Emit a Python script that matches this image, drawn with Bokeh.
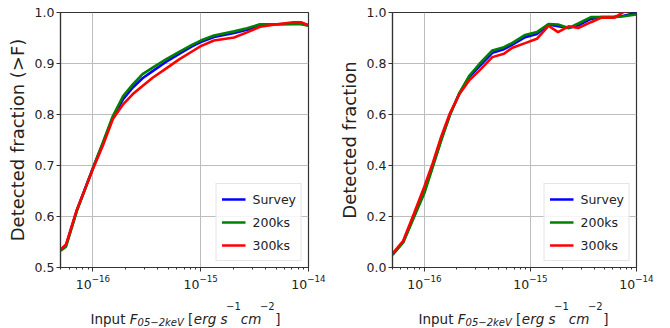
from bokeh.plotting import figure
from bokeh.layouts import row, column
from bokeh.models import Range1d, FixedTicker, PrintfTickFormatter, LogTickFormatter
from bokeh.core.properties import value
from bokeh.embed import file_html
from bokeh.resources import INLINE

# ---------------- data ----------------
series_names = ["Survey", "200ks", "300ks"]
series_colors = ["#0000ff", "#008000", "#ff0000"]

flux_left = [5.01e-17, 5.62e-17, 7.08e-17, 1.0e-16, 1.236e-16, 1.531e-16, 1.905e-16, 2.344e-16,
             2.884e-16, 3.581e-16, 4.753e-16, 6.31e-16, 8.375e-16, 1.0e-15, 1.327e-15, 2.04e-15,
             2.69e-15, 3.55e-15, 5.13e-15, 7.24e-15, 8.51e-15, 1.0e-14]
left_survey = [0.535, 0.543, 0.612, 0.695, 0.743, 0.794, 0.830, 0.853, 0.871, 0.885, 0.903,
               0.919, 0.934, 0.942, 0.952, 0.960, 0.966, 0.976, 0.977, 0.978, 0.979, 0.975]
left_200ks = [0.533, 0.541, 0.610, 0.695, 0.745, 0.797, 0.836, 0.859, 0.879, 0.892, 0.908,
              0.923, 0.937, 0.945, 0.955, 0.963, 0.969, 0.977, 0.977, 0.977, 0.977, 0.974]
left_300ks = [0.535, 0.545, 0.613, 0.693, 0.739, 0.791, 0.820, 0.840, 0.856, 0.872, 0.890,
              0.908, 0.924, 0.934, 0.945, 0.951, 0.961, 0.972, 0.977, 0.981, 0.981, 0.975]

flux_right = [5.01e-17, 6.31e-17, 7.94e-17, 1.0e-16, 1.2e-16, 1.445e-16, 1.74e-16, 2.14e-16,
              2.66e-16, 3.31e-16, 4.37e-16, 5.62e-16, 6.76e-16, 8.91e-16, 1.15e-15, 1.48e-15,
              1.82e-15, 2.29e-15, 2.82e-15, 3.72e-15, 4.68e-15, 6.17e-15, 7.59e-15, 1.0e-14]
right_survey = [0.050, 0.100, 0.200, 0.300, 0.400, 0.505, 0.600, 0.683, 0.748, 0.790, 0.842,
                0.856, 0.874, 0.903, 0.916, 0.953, 0.946, 0.939, 0.950, 0.975, 0.982, 0.983,
                0.987, 0.999]
right_200ks = [0.050, 0.098, 0.195, 0.292, 0.395, 0.500, 0.598, 0.685, 0.753, 0.799, 0.851,
               0.864, 0.881, 0.912, 0.923, 0.955, 0.953, 0.939, 0.957, 0.982, 0.982, 0.982,
               0.985, 0.992]
right_300ks = [0.055, 0.105, 0.210, 0.318, 0.410, 0.515, 0.605, 0.680, 0.735, 0.773, 0.825,
               0.838, 0.862, 0.880, 0.897, 0.948, 0.923, 0.946, 0.939, 0.962, 0.980, 0.980,
               1.002, 1.020]

left_yticks = [0.5, 0.6, 0.7, 0.8, 0.9, 1.0]
right_yticks = [0.0, 0.2, 0.4, 0.6, 0.8, 1.0]
x_major = [1e-16, 1e-15, 1e-14]
x_minor = [m * 10.0 ** e for e in (-17, -16, -15) for m in range(2, 10)]

# x-axis title pieces: Input F_{05-2keV} [erg s^{-1} cm^{-2}]
# (text, style, size px, baseline shift, horizontal nudge)
xlabel_pieces = [("Input", "normal", 13.5, 0, 0), ("F", "italic", 13.5, 0, 4.3),
                 ("05−2keV", "italic", 10, -4, 0), ("[", "normal", 13.5, 0, 4.3),
                 ("erg\u00a0s", "italic", 13.5, 0, 0.5), ("−1", "normal", 10, 12.5, -1.5),
                 ("cm", "italic", 13.5, 0, 0), ("−2", "normal", 10, 12.5, -1.5),
                 ("]", "normal", 13.5, 0, 0.5)]

FONT = "DejaVu Sans"
TXT = "#222222"
# DejaVu Sans advance widths (em) used to lay out the composite x label
ADV = {"I": 0.2949, "n": 0.6338, "p": 0.6348, "u": 0.6338, "t": 0.3921, " ": 0.3179,
       "\u00a0": 0.3179, "F": 0.5752, "0": 0.6362, "1": 0.6362, "2": 0.6362, "5": 0.6362,
       "−": 0.8379, "k": 0.5791, "e": 0.6152, "V": 0.6841, "[": 0.3901, "]": 0.3901,
       "r": 0.4111, "g": 0.6348, "s": 0.5210, "c": 0.5498, "m": 0.9741}


def make_fig(flux, ys, yrange, yticks, ylabel, min_left, min_right):
    p = figure(width=min_left + 248 + min_right, height=297, x_axis_type="log",
               x_range=Range1d(5e-17, 1e-14), y_range=Range1d(*yrange),
               output_backend="svg", toolbar_location=None,
               min_border_left=min_left, min_border_right=min_right,
               min_border_top=12, min_border_bottom=30)
    p.background_fill_color = "white"
    p.border_fill_color = "white"
    p.outline_line_color = "#333333"
    p.outline_line_width = 1.2

    for vals, name, col in zip(ys, series_names, series_colors):
        p.line(flux, vals, line_color=col, line_width=2.6, legend_label=name)

    p.xaxis.ticker = FixedTicker(ticks=x_major, minor_ticks=x_minor)
    p.xaxis.formatter = LogTickFormatter()
    p.yaxis.ticker = FixedTicker(ticks=yticks)
    p.yaxis.formatter = PrintfTickFormatter(format="%.1f")

    for ax in (p.xaxis[0], p.yaxis[0]):
        ax.axis_line_color = "#333333"
        ax.axis_line_width = 1.2
        ax.major_tick_line_color = "#333333"
        ax.minor_tick_line_color = "#333333"
        ax.major_tick_in = 0
        ax.major_tick_out = 4
        ax.minor_tick_in = 0
        ax.minor_tick_out = 2
        ax.major_label_standoff = 2
        ax.major_label_text_font = FONT
        ax.major_label_text_font_size = "12.5px"
        ax.major_label_text_color = TXT
    p.yaxis.minor_tick_out = 0
    p.xaxis.major_label_standoff = 3

    p.yaxis.axis_label = ylabel
    p.yaxis.axis_label_text_font = FONT
    p.yaxis.axis_label_text_font_size = "18px"
    p.yaxis.axis_label_text_font_style = "normal"
    p.yaxis.axis_label_text_color = TXT
    p.yaxis.axis_label_standoff = 4

    p.xgrid.ticker = FixedTicker(ticks=x_major)
    p.ygrid.ticker = FixedTicker(ticks=yticks)
    for g in (p.xgrid[0], p.ygrid[0]):
        g.grid_line_color = "#bdbdbd"
        g.grid_line_width = 1

    lg = p.legend[0]
    lg.location = "bottom_right"
    lg.margin = 6
    lg.padding = 5
    lg.spacing = 3
    lg.label_height = 20
    lg.glyph_height = 20
    lg.glyph_width = 24
    lg.label_standoff = 7
    lg.label_text_font = FONT
    lg.label_text_font_size = "12.5px"
    lg.label_text_color = TXT
    lg.border_line_color = "#cccccc"
    lg.border_line_width = 1
    lg.background_fill_alpha = 0.85
    return p


def make_xlabel(width, start):
    q = figure(width=width, height=31, x_range=Range1d(0, width), y_range=Range1d(0, 31),
               x_axis_type=None, y_axis_type=None, output_backend="svg",
               toolbar_location=None, min_border=0)
    q.outline_line_color = None
    q.background_fill_color = "white"
    q.border_fill_color = "white"
    x0 = start
    for s, style, sz, dy, nudge in xlabel_pieces:
        x0 += nudge
        q.text(x=[x0], y=[10 + dy], text=[s], text_font=value(FONT),
               text_font_size=value(f"{sz}px"), text_font_style=value(style),
               text_color=TXT, text_baseline=value("alphabetic"), text_align=value("left"))
        x0 += sum(ADV[c] for c in s) * sz
    return q


p1 = make_fig(flux_left, [left_survey, left_200ks, left_300ks], (0.5, 1.0), left_yticks,
              "Detected fraction (>F)", 60, 27)
p2 = make_fig(flux_right, [right_survey, right_200ks, right_300ks], (0.0, 1.0), right_yticks,
              "Detected fraction", 53, 34)
l1 = make_xlabel(335, 90)
l2 = make_xlabel(335, 83)

layout = column(row(p1, p2), row(l1, l2))
open("out.html", "w").write(file_html(layout, INLINE))
